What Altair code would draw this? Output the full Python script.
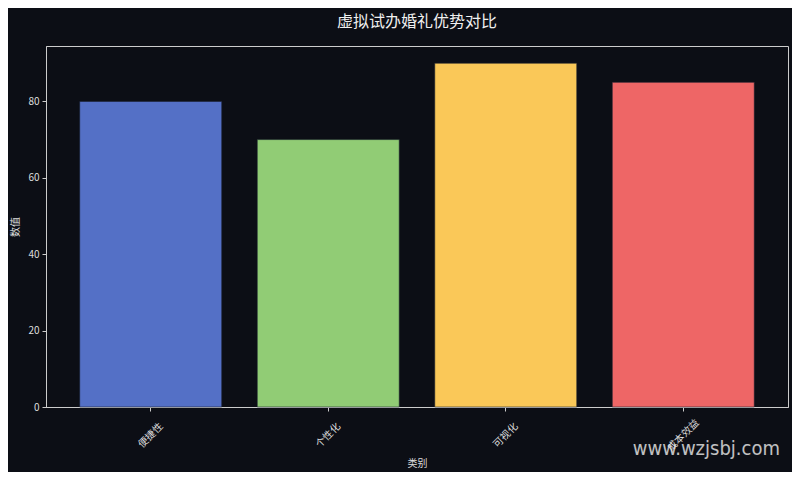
import altair as alt
import pandas as pd

categories = ["便捷性", "个性化", "可视化", "成本效益"]
values = [80, 70, 90, 85]
colors = ["#5470c6", "#91cc75", "#fac858", "#ee6666"]

df = pd.DataFrame({"类别": categories, "数值": values})

FONT = "Noto Sans CJK SC"
BG = "#0c0e15"
FG = "#dddddd"

bars = alt.Chart(df).mark_bar(stroke="#1a1f2e", strokeWidth=0.6).encode(
    x=alt.X("类别:N", sort=categories,
            scale=alt.Scale(paddingInner=0.2, paddingOuter=0.19),
            axis=alt.Axis(title="类别", labelAngle=-45, labelAlign="center",
                          labelBaseline="middle", labelPadding=24, tickSize=4,
                          titlePadding=6)),
    y=alt.Y("数值:Q", scale=alt.Scale(domain=[0, 94.5], nice=False),
            axis=alt.Axis(title="数值", values=[0, 20, 40, 60, 80], tickSize=4,
                          labelPadding=3, titleX=-31, titleY=180.5,
                          titleAlign="center", titleBaseline="middle", grid=False)),
    color=alt.Color("类别:N", sort=categories,
                    scale=alt.Scale(domain=categories, range=colors), legend=None),
)

watermark = alt.Chart(pd.DataFrame({"t": ["www.wzjsbj.com"]})).mark_text(
    align="right", baseline="middle", fontSize=20, font="DejaVu Sans Condensed",
    color="#e0e0e0", opacity=0.85,
).encode(text="t:N", x=alt.value(734), y=alt.value(403))

chart = alt.layer(bars, watermark).properties(
    width=742, height=361,
    background=BG,
    padding={"left": 38, "top": 38, "right": 4, "bottom": 65},
    autosize=alt.AutoSizeParams(type="none"),
    title=alt.TitleParams("虚拟试办婚礼优势对比", font=FONT, fontSize=16,
                          fontWeight="normal", color="#f0f0f0", offset=16, anchor="middle"),
).configure_view(
    stroke="#cccccc", strokeWidth=1, fill=BG
).configure_axis(
    labelFont=FONT, titleFont=FONT, labelColor=FG, titleColor=FG,
    labelFontSize=10, titleFontSize=10, titleFontWeight="normal",
    domainColor="#cccccc", tickColor="#cccccc", domainWidth=1,
)

chart.save("out.html", embed_options={"renderer": "svg", "actions": False})
